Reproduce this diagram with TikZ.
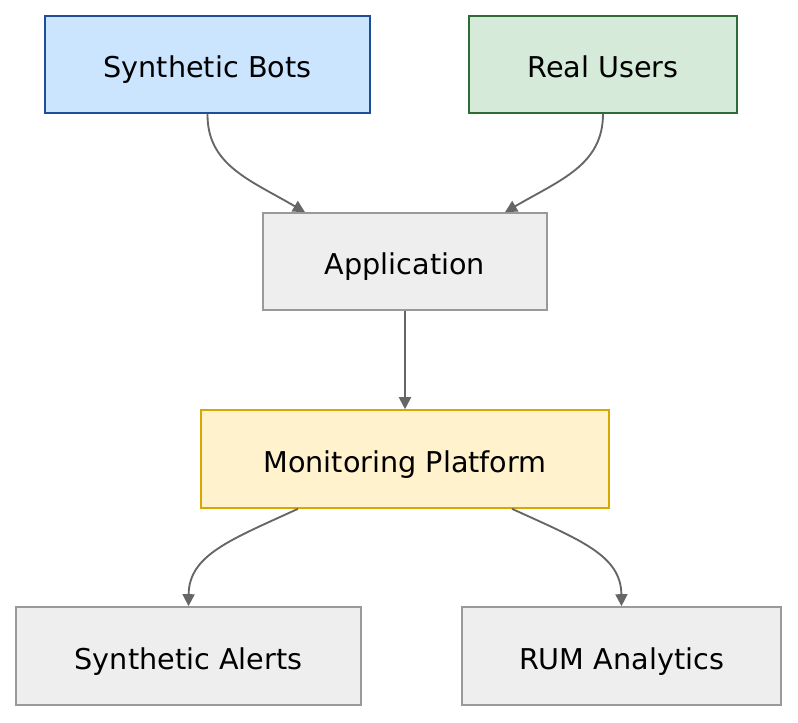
\documentclass[tikz,border=0pt]{standalone}
\usepackage{fontspec}
\setmainfont{DejaVu Sans}
\usetikzlibrary{arrows.meta}
\definecolor{bbf}{HTML}{CCE5FF}\definecolor{bbd}{HTML}{1F4E99}
\definecolor{rgf}{HTML}{D5EAD8}\definecolor{rgd}{HTML}{2E6B35}
\definecolor{gyf}{HTML}{EEEEEE}\definecolor{gyd}{HTML}{999999}
\definecolor{ylf}{HTML}{FFF2CC}\definecolor{yld}{HTML}{D6A800}
\definecolor{ed}{HTML}{666666}
\begin{document}
\begin{tikzpicture}[x=0.75pt,y=-0.75pt,
  box/.style={draw,line width=1.2pt,inner sep=0pt,text height=19.5pt,text depth=0pt,font=\fontsize{21.5}{24}\selectfont},
  edge/.style={draw=ed,line width=1.4pt,-{Triangle[length=9pt,width=9pt]}}]
\useasboundingbox (0,0) rectangle (798,722);
\node[box,fill=bbf,draw=bbd,minimum width=325*0.75pt,minimum height=97*0.75pt] (bots) at (207.5,64.5) {Synthetic Bots};
\node[box,fill=rgf,draw=rgd,minimum width=268*0.75pt,minimum height=97*0.75pt] (users) at (603,64.5) {Real Users};
\node[box,fill=gyf,draw=gyd,minimum width=284*0.75pt,minimum height=97*0.75pt] (app) at (405,261.5) {Application};
\node[box,fill=ylf,draw=yld,minimum width=408*0.75pt,minimum height=98*0.75pt] (mon) at (405,459) {Monitoring Platform};
\node[box,fill=gyf,draw=gyd,minimum width=345*0.75pt,minimum height=98*0.75pt] (alerts) at (188.5,656) {Synthetic Alerts};
\node[box,fill=gyf,draw=gyd,minimum width=319*0.75pt,minimum height=98*0.75pt] (rum) at (621.5,656) {RUM Analytics};
\draw[edge] (bots.south) .. controls (207,165) and (250,180) .. (app.north -| 305,0);
\draw[edge] (users.south) .. controls (603,165) and (560,180) .. (app.north -| 505,0);
\draw[edge] (app) -- (mon);
\draw[edge] (mon.south -| 298,0) .. controls (230,540) and (189,555) .. (alerts.north);
\draw[edge] (mon.south -| 512,0) .. controls (580,540) and (621,555) .. (rum.north);
\end{tikzpicture}
\end{document}
